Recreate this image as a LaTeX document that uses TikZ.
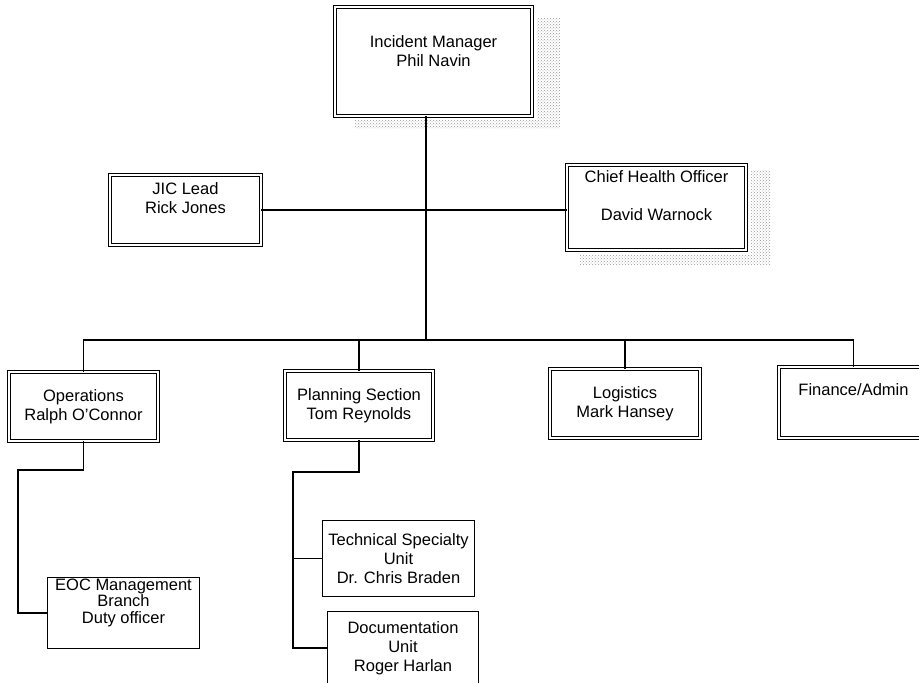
\documentclass[tikz,border=0pt]{standalone}
\usepackage{fontspec}
\setmainfont{Liberation Sans}
\usetikzlibrary{patterns}
\newcommand{\padlow}[1]{\rule[-#1]{0pt}{#1}}

\begin{document}
\begin{tikzpicture}[x=1pt, y=-1pt]
	\tikzset{
		block/.style = {rectangle, draw, double, double distance=2pt, line width=0.7pt, align=center, inner sep=1pt, font=\fontsize{16.5}{19}\selectfont},
		unit/.style = {rectangle, draw, line width=0.9pt, align=center, inner sep=1pt, font=\fontsize{16.5}{19}\selectfont},
		link/.style = {draw, line width=1.2pt},
		speckle/.style = {pattern=crosshatch dots, pattern color=black!40}
	}
	\useasboundingbox (0,0) rectangle (919,683);
	\clip (0,0) rectangle (919,683);
	\fill[speckle] (537,18) rectangle (560,128);
	\fill[speckle] (355,120) rectangle (537,128);
	\fill[speckle] (751,170) rectangle (770,264);
	\fill[speckle] (580,255) rectangle (751,264);
	\node[block, minimum width=197pt, minimum height=109pt] (im) at (433.5,61.5) {Incident Manager\\Phil Navin\padlow{21pt}};
	\node[block, minimum width=151pt, minimum height=70pt] (jic) at (185.5,210) {JIC Lead\\Rick Jones\padlow{24pt}};
	\node[block, minimum width=179pt, minimum height=85pt] (cho) at (656.5,207.5) {Chief Health Officer\\[19pt]David Warnock\padlow{23pt}};
	\node[block, minimum width=149pt, minimum height=69pt] (ops) at (83.5,406.5) {Operations\\Ralph O'Connor};
	\node[block, minimum width=148pt, minimum height=69pt] (pln) at (359,405.5) {Planning Section\\Tom Reynolds};
	\node[block, minimum width=150pt, minimum height=69pt] (log) at (625,403.5) {Logistics\\Mark Hansey};
	\node[block, minimum width=149pt, minimum height=71pt] (fin) at (853.5,402.5) {Finance/Admin\padlow{25pt}};
	\node[unit, minimum width=152pt, minimum height=71pt, font=\fontsize{16.5}{16.5}\selectfont] (eoc) at (123.5,613) {EOC Management\\Branch\\Duty officer\padlow{24pt}};
	\node[unit, minimum width=152pt, minimum height=76pt] (tsu) at (398.5,558.5) {Technical Specialty\\Unit\\Dr. Chris Braden};
	\node[unit, minimum width=151pt, minimum height=73pt] (doc) at (403,648) {Documentation\\Unit\\Roger Harlan};
	\coordinate (hub) at (426,340);
	\coordinate (opsbend) at (18,470);
	\coordinate (plnbend) at (293,472);
	\draw[link] (hub |- im.south) -- (hub);
	\draw[link] (jic.east) -- (jic.east -| cho.west);
	\draw[link] (ops.north) |- (hub) -| (fin.north);
	\draw[link] (pln.north) -- (pln.north |- hub);
	\draw[link] (log.north) -- (log.north |- hub);
	\draw[link] (ops.south) |- (opsbend) |- (eoc.west);
	\draw[link] (pln.south) |- (plnbend) |- (tsu.west);
	\draw[link] (plnbend) |- (doc.west);
\end{tikzpicture}
\end{document}
